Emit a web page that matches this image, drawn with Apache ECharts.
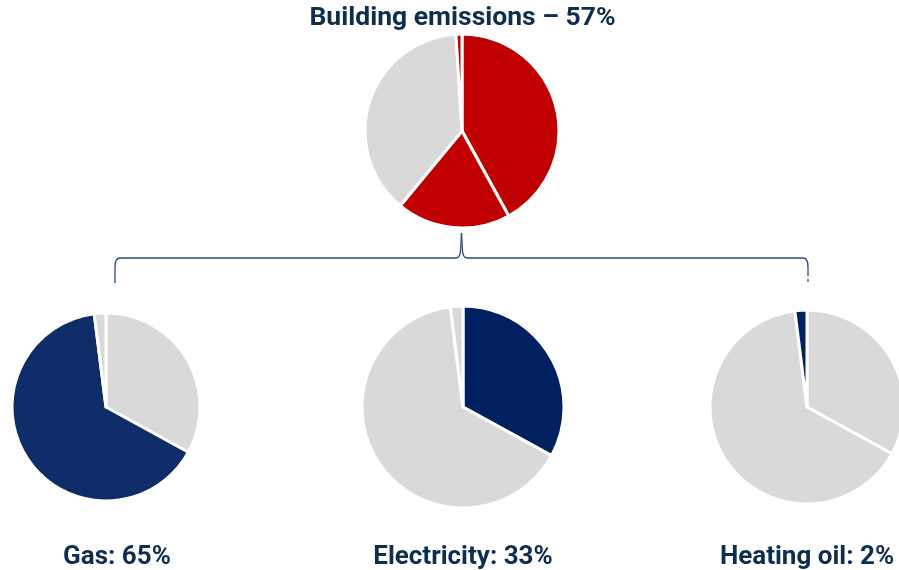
<!DOCTYPE html>
<html>
<head>
<meta charset="utf-8">
<script src="https://cdn.jsdelivr.net/npm/echarts@6/dist/echarts.min.js"></script>
<style>
html,body{margin:0;padding:0;background:#fff;}
#c{width:899px;height:570px;}
</style>
</head>
<body>
<div id="c"></div>
<script>
// ---- data ----
const titleText = 'Building emissions – 57%';
const topNames = ['Building emissions A', 'Building emissions B', 'Other emissions', 'Building emissions C'];
const topValues = [42, 19, 38, 1];
const topColors = ['#C00000', '#C00000', '#D9D9D9', '#C00000'];

const sourceNames = ['Electricity', 'Gas', 'Heating oil'];
const sourceValues = [33, 65, 2];
const sourceLabels = ['Electricity', 'Gas', 'Heating oil'];
// order of pies left to right: Gas, Electricity, Heating oil
const pieOrder = [1, 0, 2];
const highlightColors = ['#002060', '#0F2D69', '#002060'];

// ---- layout ----
const grey = '#D9D9D9';
const textColor = '#0E2D4F';
const pieLayout = [
  { center: [106, 407], radius: 94 },
  { center: [463, 407], radius: 101 },
  { center: [807, 407], radius: 97 }
];
const labelPos = [[117, 557], [463, 557], [807, 557]];

const chart = echarts.init(document.getElementById('c'), null, { renderer: 'canvas' });

const series = [{
  type: 'pie',
  center: [462, 131],
  radius: 97,
  startAngle: 90,
  clockwise: true,
  silent: true,
  label: { show: false },
  labelLine: { show: false },
  itemStyle: { borderColor: '#fff', borderWidth: 3 },
  data: topNames.map((n, i) => ({ name: n, value: topValues[i], itemStyle: { color: topColors[i] } }))
}];

pieOrder.forEach((hi, p) => {
  series.push({
    type: 'pie',
    center: pieLayout[p].center,
    radius: pieLayout[p].radius,
    startAngle: 90,
    clockwise: true,
    silent: true,
    label: { show: false },
    labelLine: { show: false },
    itemStyle: { borderColor: '#fff', borderWidth: 3 },
    data: sourceNames.map((n, i) => ({
      name: n,
      value: sourceValues[i],
      itemStyle: { color: i === hi ? highlightColors[hi] : grey }
    }))
  });
});

const bracketStyle = { stroke: '#2B4A7E', lineWidth: 1.3, fill: null };
const graphics = [
  {
    type: 'text', x: 462.5, y: 18,
    style: { text: titleText, fill: textColor, font: 'bold 26.5px Roboto', textAlign: 'center', textVerticalAlign: 'middle' }
  },
  { type: 'line', shape: { x1: 115, y1: 283, x2: 115, y2: 267 }, style: bracketStyle },
  { type: 'bezierCurve', shape: { x1: 115, y1: 267, cpx1: 115, cpy1: 258, x2: 120, y2: 258 }, style: bracketStyle },
  { type: 'line', shape: { x1: 120, y1: 258, x2: 456, y2: 258 }, style: bracketStyle },
  { type: 'bezierCurve', shape: { x1: 456, y1: 258, cpx1: 460.6, cpy1: 258, x2: 460.7, y2: 248 }, style: bracketStyle },
  { type: 'line', shape: { x1: 460.7, y1: 248, x2: 461.5, y2: 233 }, style: bracketStyle },
  { type: 'line', shape: { x1: 461.5, y1: 233, x2: 462.3, y2: 248 }, style: bracketStyle },
  { type: 'bezierCurve', shape: { x1: 462.3, y1: 248, cpx1: 462.4, cpy1: 258, x2: 467, y2: 258 }, style: bracketStyle },
  { type: 'line', shape: { x1: 467, y1: 258, x2: 803, y2: 258 }, style: bracketStyle },
  { type: 'bezierCurve', shape: { x1: 803, y1: 258, cpx1: 808, cpy1: 258, x2: 808, y2: 267 }, style: bracketStyle },
  { type: 'line', shape: { x1: 808, y1: 267, x2: 808, y2: 276 }, style: bracketStyle },
  { type: 'line', shape: { x1: 808, y1: 279, x2: 808, y2: 282 }, style: bracketStyle }
];
pieOrder.forEach((idx, p) => {
  graphics.push({
    type: 'text', x: labelPos[p][0], y: labelPos[p][1],
    style: {
      text: sourceLabels[idx] + ': ' + sourceValues[idx] + '%',
      fill: textColor, font: 'bold 26px Roboto', textAlign: 'center', textVerticalAlign: 'middle'
    }
  });
});

chart.setOption({
  animation: false,
  series: series,
  graphic: graphics
});
</script>
</body>
</html>
